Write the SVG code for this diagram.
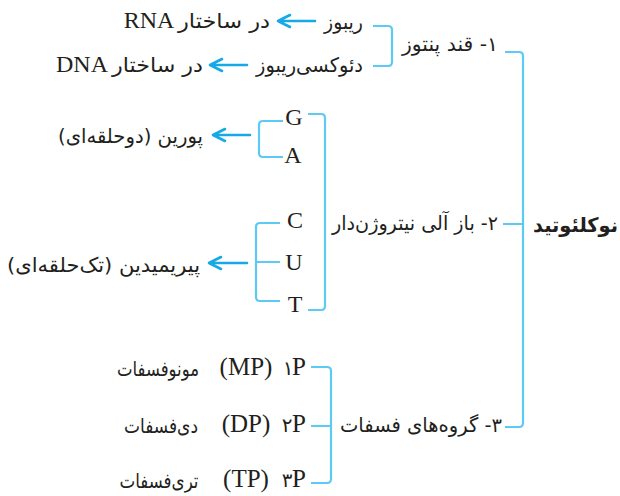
<svg xmlns="http://www.w3.org/2000/svg" width="620" height="496" viewBox="0 0 620 496">
<style>
.br{fill:none;stroke:#5ccaf5;stroke-width:2.2;stroke-linejoin:round;stroke-linecap:butt}
.ar{fill:none;stroke:#16a9e6;stroke-width:2.6;stroke-linecap:round;stroke-linejoin:round}
.fa{font-family:"DejaVu Sans",sans-serif;font-size:20px;fill:#231f20;text-anchor:middle;direction:rtl}
.fb{font-family:"DejaVu Sans",sans-serif;font-size:20px;font-weight:bold;fill:#231f20;text-anchor:middle;direction:rtl}
.la{font-family:"Liberation Serif","Times New Roman",serif;font-size:24px;fill:#231f20;text-anchor:middle}
.lp{font-family:"Liberation Serif","Times New Roman",serif;font-size:25px;fill:#231f20;text-anchor:middle}
</style>
<rect width="620" height="496" fill="#ffffff"/>
<g id="connectors">
  <path class="br" d="M505,52 H519 Q523,52 523,56 V423 Q523,427 519,427 H505 M503,224 H523"/>
  <path class="br" d="M373,26 H388 Q392,26 392,30 V62 Q392,66 388,66 H373"/>
  <path class="br" d="M308,114 H321 Q325,114 325,118 V306 Q325,310 321,310 H308"/>
  <path class="br" d="M283,121 H263 Q259,121 259,125 V153 Q259,157 263,157 H283"/>
  <path class="br" d="M280,223 H260 Q256,223 256,227 V297 Q256,301 260,301 H280 M256,262 H280"/>
  <path class="br" d="M311,367 H327 Q331,367 331,371 V479 Q331,483 327,483 H311 M311,426 H331"/>
  <path class="ar" d="M315,21 H278 M290,15 L278,21 L290,27"/>
  <path class="ar" d="M247,65 H210 M222,59 L210,65 L222,71"/>
  <path class="ar" d="M250,135 H213 M225,129 L213,135 L225,141"/>
  <path class="ar" d="M247,263 H209 M221,257 L209,263 L221,269"/>
</g>
<g id="nucleotide"><text class="fb" x="575.5" y="232" textLength="85" lengthAdjust="spacingAndGlyphs">نوکلئوتید</text></g>
<g id="sugar"><text class="fa" x="450" y="51" textLength="96" lengthAdjust="spacingAndGlyphs">۱- قند پنتوز</text></g>
<g id="ribose"><text class="fa" x="343.5" y="29" textLength="39" lengthAdjust="spacingAndGlyphs">ریبوز</text></g>
<g id="ribose-rna"><text class="fa" x="224" y="28" textLength="92" lengthAdjust="spacingAndGlyphs">در ساختار</text><text class="la" x="149" y="28">RNA</text></g>
<g id="deoxyribose"><text class="fa" x="309.5" y="72" textLength="107" lengthAdjust="spacingAndGlyphs">دئوکسی‌ریبوز</text></g>
<g id="deoxyribose-dna"><text class="fa" x="157.5" y="72" textLength="91" lengthAdjust="spacingAndGlyphs">در ساختار</text><text class="la" x="82" y="72">DNA</text></g>
<g id="base"><text class="fa" x="415" y="230" textLength="166" lengthAdjust="spacingAndGlyphs">۲- باز آلی نیتروژن‌دار</text></g>
<g id="G"><text class="la" x="294" y="125">G</text></g>
<g id="A"><text class="la" x="293" y="163">A</text></g>
<g id="C"><text class="la" x="295" y="228">C</text></g>
<g id="U"><text class="la" x="294" y="270">U</text></g>
<g id="T"><text class="la" x="295" y="312">T</text></g>
<g id="purine"><text class="fa" x="130.5" y="143" textLength="145" lengthAdjust="spacingAndGlyphs">پورین (دوحلقه‌ای)</text></g>
<g id="pyrimidine"><text class="fa" x="103.5" y="272" textLength="193" lengthAdjust="spacingAndGlyphs">پیریمیدین (تک‌حلقه‌ای)</text></g>
<g id="phosphate"><text class="fa" x="421" y="432" textLength="162" lengthAdjust="spacingAndGlyphs">۳- گروه‌های فسفات</text></g>
<g id="mp"><text class="fa" x="158" y="376" textLength="82" lengthAdjust="spacingAndGlyphs">مونوفسفات</text><text class="lp" x="246" y="375">(MP)</text><text class="fa" x="288" y="375">۱</text><text class="lp" x="299" y="375">P</text></g>
<g id="dp"><text class="fa" x="161" y="433" textLength="74" lengthAdjust="spacingAndGlyphs">دی‌فسفات</text><text class="lp" x="246" y="432">(DP)</text><text class="fa" x="287" y="432">۲</text><text class="lp" x="299" y="432">P</text></g>
<g id="tp"><text class="fa" x="159" y="488" textLength="79" lengthAdjust="spacingAndGlyphs">تری‌فسفات</text><text class="lp" x="246" y="487">(TP)</text><text class="fa" x="287" y="487">۳</text><text class="lp" x="299" y="487">P</text></g>
</svg>
